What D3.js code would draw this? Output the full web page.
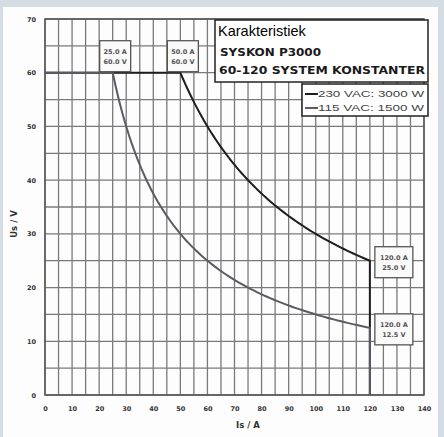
<!DOCTYPE html>
<html>
<head>
<meta charset="utf-8">
<script src="https://cdn.jsdelivr.net/npm/d3@7"></script>
<style>
body { margin: 0; background: #d4dde4; }
svg { display: block; }
</style>
</head>
<body>
<div id="grafica"></div>
<script>
"use strict";

// data
const xTicks = [0, 10, 20, 30, 40, 50, 60, 70, 80, 90, 100, 110, 120, 130, 140];
const yTicks = [0, 10, 20, 30, 40, 50, 60, 70];
const series = ["230 VAC: 3000 W", "115 VAC: 1500 W"];
const powers = [3000, 1500];
const maxVoltage = [60, 60];
const maxCurrent = [120, 120];
const cornerLabels = [["25.0 A", "60.0 V"], ["50.0 A", "60.0 V"], ["120.0 A", "25.0 V"], ["120.0 A", "12.5 V"]];
const cornerPoints = [[25, 60], [50, 60], [120, 25], [120, 12.5]];
const colores = ["#1e1e1e", "#5e5a62"];

const width = 444, height = 437;
const margin = { top: 19, left: 45, right: 20, bottom: 42 };

const svg = d3.select("#grafica").append("svg")
    .attr("width", width)
    .attr("height", height);

svg.append("rect")
    .attr("x", 3).attr("y", 7)
    .attr("width", 435).attr("height", 430)
    .attr("fill", "#fdfdfd");

const x = d3.scaleLinear().domain([0, 140]).range([margin.left, width - margin.right]);
const y = d3.scaleLinear().domain([0, 70]).range([height - margin.bottom, margin.top]);

// grid every 5
const grid = svg.append("g").attr("class", "grid");
d3.range(0, 141, 5).forEach(function (v) {
    grid.append("line")
        .attr("x1", x(v)).attr("x2", x(v))
        .attr("y1", y(0)).attr("y2", y(70))
        .attr("stroke", "#7a7a7a").attr("stroke-width", 1.3);
});
d3.range(0, 71, 5).forEach(function (v) {
    grid.append("line")
        .attr("x1", x(0)).attr("x2", x(140))
        .attr("y1", y(v)).attr("y2", y(v))
        .attr("stroke", "#7a7a7a").attr("stroke-width", 1.3);
});
svg.append("rect")
    .attr("x", x(0)).attr("y", y(70))
    .attr("width", x(140) - x(0)).attr("height", y(0) - y(70))
    .attr("fill", "none").attr("stroke", "#555").attr("stroke-width", 1.5);

// axes
const xAxis = svg.append("g")
    .attr("transform", "translate(0," + (y(0) + 13) + ")")
    .call(d3.axisBottom(x).tickValues(xTicks).tickSize(0));
const yAxis = svg.append("g")
    .attr("transform", "translate(" + (x(0) - 9) + ",0)")
    .call(d3.axisLeft(y).tickValues(yTicks).tickSize(0));
[xAxis, yAxis].forEach(function (a) {
    a.select(".domain").remove();
    a.selectAll("text")
        .attr("font-family", "DejaVu Sans")
        .attr("font-size", 6.5)
        .attr("font-weight", "bold")
        .attr("fill", "#333");
});
xAxis.selectAll("text").attr("dy", "0");
yAxis.selectAll("text").attr("x", 0);

svg.append("text")
    .attr("x", 248).attr("y", 428)
    .attr("text-anchor", "middle")
    .attr("font-family", "DejaVu Sans").attr("font-size", 8.5).attr("font-weight", "bold")
    .attr("fill", "#333")
    .text("Is / A");
svg.append("text")
    .attr("transform", "translate(17,224) rotate(-90)")
    .attr("text-anchor", "middle")
    .attr("font-family", "DejaVu Sans").attr("font-size", 8.5).attr("font-weight", "bold")
    .attr("fill", "#333")
    .text("Us / V");

// curves: constant voltage, constant power, constant current
const line = d3.line().x(d => x(d[0])).y(d => y(d[1]));
series.forEach(function (s, i) {
    const iStart = powers[i] / maxVoltage[i];
    const pts = [[0, maxVoltage[i]]];
    for (let k = 0; k <= 80; k++) {
        const ia = iStart + (maxCurrent[i] - iStart) * k / 80;
        pts.push([ia, powers[i] / ia]);
    }
    pts.push([maxCurrent[i], 0]);
    svg.append("path")
        .attr("d", line(pts))
        .attr("fill", "none")
        .attr("stroke", colores[i])
        .attr("stroke-width", 2);
});

// corner labels
cornerLabels.forEach(function (lbl, i) {
    const p = cornerPoints[i];
    const derecha = p[0] >= 100;
    const cajaW = derecha ? 38 : 31, cajaH = 31;
    const bx = derecha ? x(p[0]) + 5 : x(p[0]) - 13;
    const by = derecha ? y(p[1]) - 14 : y(p[1]) - 32;
    const g = svg.append("g").attr("transform", "translate(" + bx + "," + by + ")");
    g.append("rect")
        .attr("width", cajaW).attr("height", cajaH)
        .attr("fill", "#fafafa")
        .attr("stroke", "#555").attr("stroke-width", 1.3);
    lbl.forEach(function (t, j) {
        g.append("text")
            .attr("x", cajaW / 2).attr("y", 13 + j * 10)
            .attr("text-anchor", "middle")
            .attr("font-family", "DejaVu Sans").attr("font-size", 6.5).attr("font-weight", "bold")
            .attr("fill", "#555")
            .text(t);
    });
});

// title box
const titulo = svg.append("g").attr("transform", "translate(215,20)");
titulo.append("rect")
    .attr("width", 213).attr("height", 62)
    .attr("fill", "#fff")
    .attr("stroke", "#222").attr("stroke-width", 1.5);
titulo.append("text")
    .attr("x", 3).attr("y", 16)
    .attr("font-family", "Liberation Sans").attr("font-size", 14.5)
    .attr("fill", "#000")
    .text("Karakteristiek");
titulo.append("text")
    .attr("x", 5).attr("y", 36)
    .attr("font-family", "DejaVu Sans").attr("font-size", 11).attr("font-weight", "bold")
    .attr("textLength", 101).attr("lengthAdjust", "spacingAndGlyphs")
    .attr("fill", "#1a1a1a")
    .text("SYSKON P3000");
titulo.append("text")
    .attr("x", 4).attr("y", 54)
    .attr("font-family", "DejaVu Sans").attr("font-size", 11).attr("font-weight", "bold")
    .attr("textLength", 206).attr("lengthAdjust", "spacingAndGlyphs")
    .attr("fill", "#1a1a1a")
    .text("60-120 SYSTEM KONSTANTER");

// legend
const leyenda = svg.append("g").attr("transform", "translate(302,84)");
leyenda.append("rect")
    .attr("width", 126).attr("height", 32)
    .attr("fill", "#fff")
    .attr("stroke", "#222").attr("stroke-width", 1.5);
series.forEach(function (s, i) {
    leyenda.append("line")
        .attr("x1", 3).attr("x2", 16)
        .attr("y1", 10 + i * 14).attr("y2", 10 + i * 14)
        .attr("stroke", colores[i]).attr("stroke-width", 2);
    leyenda.append("text")
        .attr("x", 16).attr("y", 13 + i * 14)
        .attr("font-family", "Liberation Sans").attr("font-size", 9)
        .attr("textLength", 106).attr("lengthAdjust", "spacingAndGlyphs")
        .attr("fill", "#444")
        .text(s);
});
</script>
</body>
</html>
